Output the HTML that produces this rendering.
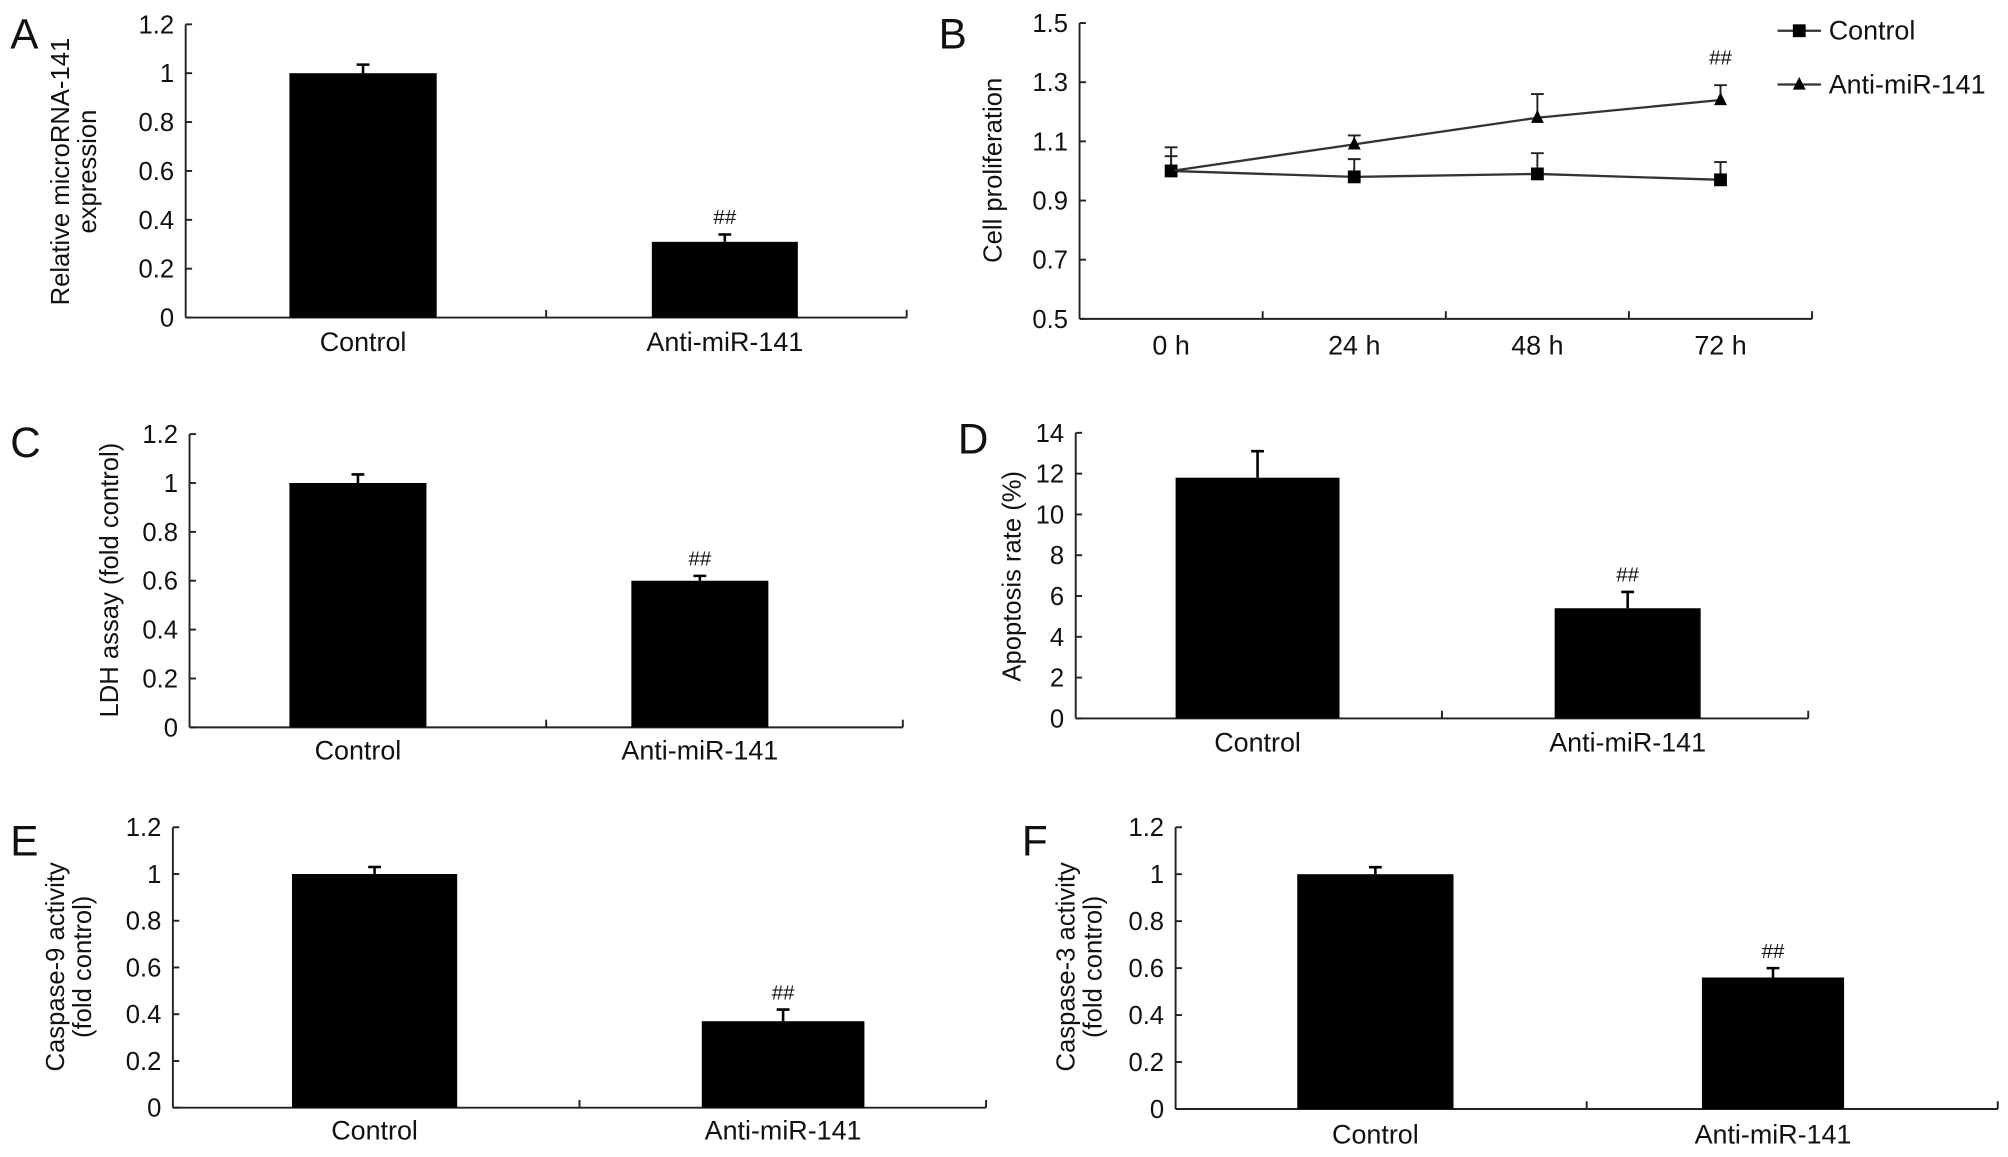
<!DOCTYPE html>
<html><head><meta charset="utf-8"><style>
html,body{margin:0;padding:0;background:#fff}
svg{display:block}
text{font-family:"Liberation Sans",Arial,sans-serif;fill:#111}
</style></head><body>
<svg id="fig" width="2008" height="1157" viewBox="0 0 1568 903.5" preserveAspectRatio="none" xmlns="http://www.w3.org/2000/svg"></svg>
<script>
// Panel A
const catsA = ["Control", "Anti-miR-141"];
const valsA = [1.0, 0.31];
const errsA = [1.035, 0.34];
const ticksA = [0, 0.2, 0.4, 0.6, 0.8, 1, 1.2];
// Panel B
const timesB = ["0 h", "24 h", "48 h", "72 h"];
const ctrlB = [1.0, 0.98, 0.99, 0.97];
const ctrlErrB = [1.08, 1.04, 1.06, 1.03];
const antiB = [1.0, 1.09, 1.18, 1.24];
const antiErrB = [1.05, 1.12, 1.26, 1.29];
const ticksB = [0.5, 0.7, 0.9, 1.1, 1.3, 1.5];
// Panel C
const valsC = [1.0, 0.6];
const errsC = [1.035, 0.62];
// Panel D
const valsD = [11.8, 5.4];
const errsD = [13.1, 6.2];
const ticksD = [0, 2, 4, 6, 8, 10, 12, 14];
// Panel E
const valsE = [1.0, 0.37];
const errsE = [1.03, 0.42];
// Panel F
const valsF = [1.0, 0.56];
const errsF = [1.03, 0.6];

const NS = "http://www.w3.org/2000/svg";
const svg = document.getElementById("fig");
function mk(tag, attrs, parent) {
  const e = document.createElementNS(NS, tag);
  for (const k in attrs) e.setAttribute(k, attrs[k]);
  (parent || svg).appendChild(e);
  return e;
}
function txt(s, x, y, size, anchor, parent, rot) {
  const t = mk("text", {x: x, y: y, "font-size": size, "text-anchor": anchor || "middle"}, parent);
  if (rot) t.setAttribute("transform", "rotate(-90 " + x + " " + y + ")");
  t.textContent = s;
  return t;
}
function yAxis(g, ax, yTop, yBot, ticks, min, max) {
  const ys = v => yBot - (v - min) / (max - min) * (yBot - yTop);
  const l = mk("line", {x1: ax, y1: yTop, x2: ax, y2: yBot, stroke: "#222", "stroke-width": 1.5}, g);
  
  
  ticks.forEach(v => {
    mk("line", {x1: ax, y1: ys(v), x2: ax + 5, y2: ys(v), stroke: "#222", "stroke-width": 1.5}, g);
    const t = txt(String(v), ax - 9, ys(v) + 7, 20, "end", g);
    
    
  });
  return ys;
}
function barPanel(o) {
  const g = mk("g", {});
  
  
  const L = txt(o.letter, o.lx, o.ly, 33, "start", g);
  
  
  const ys = yAxis(g, o.ax, o.yTop, o.yBot, o.ticks, o.ticks[0], o.ticks[o.ticks.length - 1]);
  const xa = mk("line", {x1: o.ax, y1: o.yBot, x2: o.xEnd, y2: o.yBot, stroke: "#222", "stroke-width": 1.5}, g);
  
  
  const half = (o.xEnd - o.ax) / 2;
  [o.ax + half, o.xEnd].forEach(x => mk("line", {x1: x, y1: o.yBot, x2: x, y2: o.yBot - 6, stroke: "#222", "stroke-width": 1.5}, g));
  o.vals.forEach((v, i) => {
    const x0 = o.bars[i][0], x1 = o.bars[i][1], cx = (x0 + x1) / 2;
    const r = mk("rect", {x: x0, y: ys(v), width: x1 - x0, height: o.yBot - ys(v), fill: "#000"}, g);
    
    
    const e = mk("path", {d: "M" + cx + " " + ys(v) + "V" + ys(o.errs[i]) + "M" + (cx - 5) + " " + ys(o.errs[i]) + "H" + (cx + 5), stroke: "#000", "stroke-width": 2, fill: "none"}, g);
    
    
    if (i === 1) {
      const s = txt("##", cx, ys(o.errs[i]) - 8, 16, "middle", g);
      
      
    }
    const c = txt(catsA[i], cx, o.catY, 21, "middle", g);
    
    
  });
  o.ylab.forEach((s, k) => {
    const t = txt(s, o.ylx + k * 21, o.yly, 20, "middle", g, true);
    
    
  });
}
barPanel({name: "panel-a", letter: "A", lx: 8, ly: 38, ax: 145, yTop: 19, yBot: 248, xEnd: 708, ticks: ticksA, vals: valsA, errs: errsA, bars: [[226, 341], [509, 623]], catY: 274, ylab: ["Relative microRNA-141", "expression"], ylx: 54, yly: 134});
barPanel({name: "panel-c", letter: "C", lx: 8, ly: 357, ax: 148, yTop: 339, yBot: 568, xEnd: 705, ticks: ticksA, vals: valsC, errs: errsC, bars: [[226, 333], [493, 600]], catY: 593, ylab: ["LDH assay (fold control)"], ylx: 92, yly: 453});
barPanel({name: "panel-d", letter: "D", lx: 748, ly: 354, ax: 840, yTop: 338, yBot: 561, xEnd: 1412, ticks: ticksD, vals: valsD, errs: errsD, bars: [[918, 1046], [1214, 1328]], catY: 587, ylab: ["Apoptosis rate (%)"], ylx: 797, yly: 450});
barPanel({name: "panel-e", letter: "E", lx: 8, ly: 668, ax: 135, yTop: 646, yBot: 865, xEnd: 770, ticks: ticksA, vals: valsE, errs: errsE, bars: [[228, 357], [548, 675]], catY: 890, ylab: ["Caspase-9 activity", "(fold control)"], ylx: 50, yly: 755});
barPanel({name: "panel-f", letter: "F", lx: 798, ly: 668, ax: 918, yTop: 646, yBot: 866, xEnd: 1560, ticks: ticksA, vals: valsF, errs: errsF, bars: [[1013, 1135], [1329, 1440]], catY: 893, ylab: ["Caspase-3 activity", "(fold control)"], ylx: 839, yly: 755});

// Panel B line chart
(function () {
  const g = mk("g", {});
  
  
  const L = txt("B", 733, 38, 33, "start", g);
  
  
  const ax = 843, yTop = 18, yBot = 249, xEnd = 1415;
  const ys = yAxis(g, ax, yTop, yBot, ticksB, 0.5, 1.5);
  const xa = mk("line", {x1: ax, y1: yBot, x2: xEnd, y2: yBot, stroke: "#222", "stroke-width": 1.5}, g);
  
  
  const step = (xEnd - ax) / timesB.length;
  const xs = i => ax + step * (i + 0.5);
  for (let i = 1; i <= timesB.length; i++) mk("line", {x1: ax + step * i, y1: yBot, x2: ax + step * i, y2: yBot - 6, stroke: "#222", "stroke-width": 1.5}, g);
  timesB.forEach((t, i) => {
    const e = txt(t, xs(i), 277, 21, "middle", g);
    
    
  });
  const yt = txt("Cell proliferation", 782, 133, 20, "middle", g, true);
  
  
  function series(vals, errs, name, tri) {
    const eb = mk("path", {d: vals.map((v, i) => "M" + xs(i) + " " + ys(v) + "V" + ys(errs[i]) + "M" + (xs(i) - 5) + " " + ys(errs[i]) + "H" + (xs(i) + 5)).join(""), stroke: "#222", "stroke-width": 1.5, fill: "none"}, g);
    
    
    const pl = mk("polyline", {points: vals.map((v, i) => xs(i) + "," + ys(v)).join(" "), stroke: "#333", "stroke-width": 1.8, fill: "none"}, g);
    
    
    vals.forEach((v, i) => {
      const m = tri ? mk("path", {d: "M" + xs(i) + " " + (ys(v) - 6) + "L" + (xs(i) + 5) + " " + (ys(v) + 4) + "L" + (xs(i) - 5) + " " + (ys(v) + 4) + "Z", fill: "#000"}, g)
                    : mk("rect", {x: xs(i) - 5, y: ys(v) - 5, width: 10, height: 10, fill: "#000"}, g);
      
      
    });
  }
  series(ctrlB, ctrlErrB, "control", false);
  series(antiB, antiErrB, "anti-mir-141", true);
  const s = txt("##", xs(3), ys(antiErrB[3]) - 16, 16, "middle", g);
  
  
  [["Control", false, 24], ["Anti-miR-141", true, 66]].forEach(([lab, tri, y]) => {
    const lg = mk("g", {}, g);
    
    
    mk("line", {x1: 1388, y1: y, x2: 1422, y2: y, stroke: "#333", "stroke-width": 1.8}, lg);
    if (tri) mk("path", {d: "M1405 " + (y - 6) + "L1410 " + (y + 4) + "L1400 " + (y + 4) + "Z", fill: "#000"}, lg);
    else mk("rect", {x: 1400, y: y - 5, width: 10, height: 10, fill: "#000"}, lg);
    txt(lab, 1428, y + 7, 21, "start", lg);
  });
})();
</script>
</body></html>
